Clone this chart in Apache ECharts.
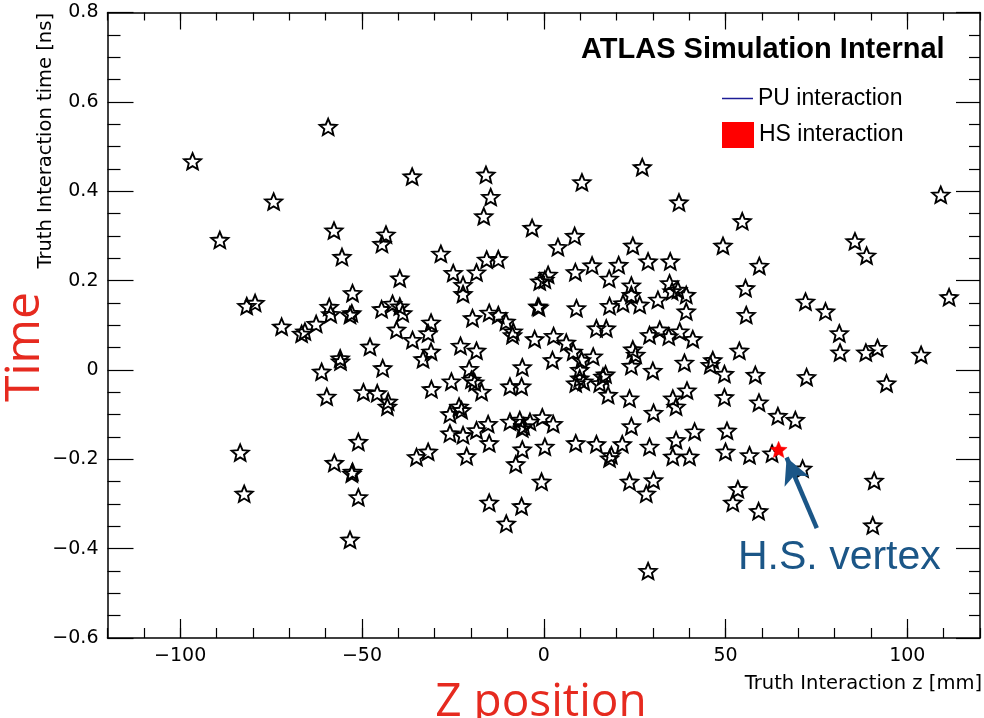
<!DOCTYPE html>
<html>
<head>
<meta charset="utf-8">
<script src="https://cdn.jsdelivr.net/npm/echarts@6/dist/echarts.min.js"></script>
<style>html,body{margin:0;padding:0;background:#fff}#c{width:984px;height:718px}</style>
</head>
<body>
<div id="c"></div>
<script>
// ---- data ----
const zPU = [
-59.3,-96.6,-36.2,-74.3,-89.1,-57.7,-55.5,-43.4,-44.5,-39.6,-28.3,-52.6,
-15.9,-14.6,-16.5,10.5,27.1,37.2,-3.2,8.5,3.9,24.5,-15.7,-12.5,-24.9,-18.5,-22.2,28.7,34.8,8.7,13.3,20.6,18.0,-1.1,1.2,0.3,24.1,34.6,
109.2,54.6,49.3,59.3,55.5,85.6,88.8,
-81.7,-79.4,-72.1,-66.6,-65.7,-62.6,-59.0,-58.6,-53.3,-52.8,-44.6,-41.6,-39.6,-38.8,-40.5,-36.1,-31.8,-31.0,-31.0,-33.2,-47.8,-56.0,-55.9,-61.1,-44.3,-59.7,-49.6,-45.8,-42.8,-43.0,-30.9,-51.0,-83.5,-35.0,-31.8,
-57.6,-52.8,-52.6,-82.4,-51.0,-53.3,
-22.2,36.9,39.2,35.3,39.2,31.4,26.4,24.1,21.8,18.1,9.0,-1.6,-1.3,-19.6,-15.0,-12.5,-10.4,-8.4,-8.6,-2.5,2.7,6.2,8.1,10.4,13.6,2.4,-5.9,-22.9,-18.5,14.5,17.2,24.5,25.3,24.1,29.1,31.9,34.4,37.4,41.0,38.7,30.0,9.9,9.9,8.8,11.0,16.3,17.0,15.4,17.7,23.6,30.2,35.5,36.4,39.4,24.1,36.4,41.5,40.1,35.5,29.1,21.6,18.6,18.1,14.5,8.8,0.3,-5.9,-15.0,-21.2,-6.1,-9.3,-20.5,-19.9,-19.0,-17.1,-25.4,-23.3,-25.8,-22.6,-25.8,-22.2,-18.5,-15.3,-9.3,-6.6,-5.9,-5.5,-3.8,-0.4,2.6,
-7.7,-0.6,-15.0,-6.1,-10.3,23.6,30.2,28.2,28.7,
55.7,72.0,77.5,81.3,81.5,88.6,91.8,111.5,103.8,94.3,72.3,53.8,46.5,45.8,49.7,58.2,49.7,59.2,64.4,69.2,50.4,50.0,56.6,62.8,
71.2,53.4,52.0,59.1,90.9,90.5
];
const tPU = [
0.544,0.467,0.433,0.377,0.291,0.312,0.253,0.303,0.282,0.205,0.260,0.172,
0.437,0.387,0.344,0.420,0.454,0.375,0.318,0.300,0.275,0.278,0.247,0.248,0.217,0.218,0.190,0.243,0.243,0.219,0.234,0.235,0.204,0.198,0.213,0.202,0.189,0.194,
0.392,0.333,0.278,0.233,0.183,0.288,0.256,
0.143,0.150,0.097,0.081,0.086,0.103,0.141,0.125,0.123,0.127,0.136,0.148,0.142,0.127,0.090,0.067,0.082,0.106,0.041,0.024,0.052,0.026,0.019,-0.004,0.004,-0.060,-0.050,-0.052,-0.071,-0.082,-0.043,-0.161,-0.185,-0.195,-0.183,
-0.208,-0.232,-0.228,-0.277,-0.285,-0.380,
0.170,0.179,0.168,0.176,0.131,0.157,0.146,0.168,0.149,0.143,0.138,0.142,0.140,0.116,0.128,0.123,0.108,0.086,0.078,0.069,0.076,0.061,0.041,0.022,0.030,0.022,0.006,0.054,0.043,0.093,0.093,0.046,0.034,0.009,0.078,0.090,0.075,0.086,0.069,0.016,-0.002,0.000,-0.019,-0.030,-0.026,-0.015,-0.010,-0.030,-0.056,-0.064,-0.096,-0.064,-0.082,-0.046,-0.126,-0.157,-0.138,-0.194,-0.194,-0.172,-0.166,-0.191,-0.198,-0.166,-0.164,-0.172,-0.178,-0.164,-0.193,-0.037,-0.037,0.002,-0.022,-0.028,-0.049,-0.026,-0.082,-0.099,-0.090,-0.142,-0.146,-0.135,-0.121,-0.116,-0.112,-0.131,-0.126,-0.116,-0.106,-0.121,
-0.211,-0.250,-0.297,-0.305,-0.344,-0.250,-0.247,-0.277,-0.450,
0.123,0.153,0.131,0.082,0.039,0.039,0.049,0.163,0.034,-0.030,-0.016,0.043,0.022,0.011,-0.009,-0.011,-0.061,-0.073,-0.103,-0.112,-0.136,-0.183,-0.191,-0.187,
-0.221,-0.267,-0.297,-0.316,-0.248,-0.348
];
const zHS = [64.6];
const tHS = [-0.178];
const xMajorTicks = [-100, -50, 0, 50, 100];
const yMajorTicks = [-0.6, -0.4, -0.2, 0, 0.2, 0.4, 0.6, 0.8];
const arrowFrom = [75.1, -0.354];
const arrowTo = [66.8, -0.196];
const seriesNames = ['PU interaction', 'HS interaction'];

// ---- styling ----
function starPath() {
  const pts = [];
  for (let k = 0; k < 10; k++) {
    const a = -Math.PI / 2 + k * Math.PI / 5;
    const r = (k % 2) ? 0.45 : 1;
    pts.push((r * Math.cos(a)).toFixed(4) + ' ' + (r * Math.sin(a)).toFixed(4));
  }
  return 'path://M' + pts.join(' L') + ' Z';
}
const STAR = starPath();
const minus = v => (v < 0 ? '\u2212' : '') + Math.abs(v);
const tickFont = { fontFamily: 'DejaVu Sans', fontSize: 19, color: '#000' };
const lineCol = { color: '#000', width: 1.5 };

const chart = echarts.init(document.getElementById('c'), null, { renderer: 'canvas' });

const baseX = { type: 'value', min: -120, max: 120, gridIndex: 0, splitLine: { show: false } };
const baseY = { type: 'value', min: -0.6, max: 0.8, gridIndex: 0, splitLine: { show: false } };

chart.setOption({
  animation: false,
  backgroundColor: '#fff',
  grid: { left: 107.5, right: 4, top: 12.5, bottom: 80, containLabel: false },
  xAxis: [
    Object.assign({}, baseX, { position: 'bottom', interval: 10,
      axisLine: { show: true, onZero: false, lineStyle: lineCol },
      axisTick: { show: true, inside: true, length: 10, lineStyle: { color: '#000', width: 1.2 } },
      axisLabel: { show: false } }),
    Object.assign({}, baseX, { position: 'bottom',
      axisLine: { show: false, onZero: false },
      axisTick: { show: true, inside: true, length: 19, customValues: xMajorTicks, lineStyle: { color: '#000', width: 1.2 } },
      axisLabel: Object.assign({ show: true, customValues: xMajorTicks, margin: 9, formatter: v => minus(v) }, tickFont) }),
    Object.assign({}, baseX, { position: 'top', interval: 10,
      axisLine: { show: true, onZero: false, lineStyle: lineCol },
      axisTick: { show: true, inside: true, length: 8, lineStyle: { color: '#000', width: 1.2 } },
      axisLabel: { show: false } }),
    Object.assign({}, baseX, { position: 'top',
      axisLine: { show: false, onZero: false },
      axisTick: { show: true, inside: true, length: 17, customValues: xMajorTicks, lineStyle: { color: '#000', width: 1.2 } },
      axisLabel: { show: false } })
  ],
  yAxis: [
    Object.assign({}, baseY, { position: 'left', interval: 0.2,
      axisLine: { show: true, onZero: false, lineStyle: lineCol },
      axisTick: { show: true, inside: true, length: 26, lineStyle: { color: '#000', width: 1.2 } },
      minorTick: { show: true, splitNumber: 4, length: 13, lineStyle: { color: '#000', width: 1.2 } },
      axisLabel: Object.assign({ show: true, margin: 9, formatter: v => {
        if (Math.abs(v) < 1e-9) return '0';
        return (v < 0 ? '\u2212' : '') + Math.abs(v).toFixed(1);
      } }, tickFont) }),
    Object.assign({}, baseY, { position: 'right', interval: 0.2,
      axisLine: { show: true, onZero: false, lineStyle: lineCol },
      axisTick: { show: true, inside: true, length: 24, lineStyle: { color: '#000', width: 1.2 } },
      minorTick: { show: true, splitNumber: 4, length: 11, lineStyle: { color: '#000', width: 1.2 } },
      axisLabel: { show: false } })
  ],
  legend: [
    { data: [{ name: seriesNames[0], icon: 'rect', itemStyle: { color: '#1c1c96', borderWidth: 0, opacity: 1 } }],
      left: 722, top: 87, itemWidth: 31, itemHeight: 1.5, padding: 0, selectedMode: false,
      textStyle: { fontFamily: 'Liberation Sans', fontSize: 23, color: '#000' } },
    { data: [{ name: seriesNames[1], icon: 'rect', itemStyle: { color: '#ff0000', borderWidth: 0, opacity: 1 } }],
      left: 722, top: 122, itemWidth: 32, itemHeight: 26, padding: 0, selectedMode: false,
      textStyle: { fontFamily: 'Liberation Sans', fontSize: 23, color: '#000' } }
  ],
  series: [
    { name: seriesNames[0], type: 'scatter', xAxisIndex: 0, yAxisIndex: 0,
      data: zPU.map((z, i) => [z, tPU[i]]),
      symbol: STAR, symbolSize: 17, symbolKeepAspect: true,
      itemStyle: { color: 'rgba(255,255,255,0)', borderColor: '#000', borderWidth: 1.9, opacity: 1 },
      emphasis: { disabled: true }, z: 2 },
    { name: seriesNames[1], type: 'scatter', xAxisIndex: 0, yAxisIndex: 0,
      data: zHS.map((z, i) => [z, tHS[i]]),
      symbol: STAR, symbolSize: 17, symbolKeepAspect: true,
      itemStyle: { color: '#ff0000', borderColor: '#ff0000', borderWidth: 0.5, opacity: 1 },
      emphasis: { disabled: true }, z: 3,
      markLine: { silent: true, animation: false,
        symbol: ['none', 'arrow'], symbolSize: [20, 26],
        lineStyle: { color: '#1b5687', width: 4.5, type: 'solid', opacity: 1 },
        label: { show: false },
        data: [[{ coord: arrowFrom }, { coord: arrowTo }]] } }
  ],
  graphic: [
    { type: 'text', x: 581, y: 49.5, silent: true,
      style: { text: 'ATLAS Simulation Internal', font: 'bold 29px "Liberation Sans"', fill: '#000', textAlign: 'left', textVerticalAlign: 'middle' } },
    { type: 'text', x: 982, y: 684, silent: true,
      style: { text: 'Truth Interaction z [mm]', font: '19.5px "DejaVu Sans"', fill: '#000', textAlign: 'right', textVerticalAlign: 'middle' } },
    { type: 'text', x: 46, y: 13, rotation: Math.PI / 2, silent: true,
      style: { text: 'Truth Interaction time [ns]', font: '19.5px "DejaVu Sans"', fill: '#000', textAlign: 'right', textVerticalAlign: 'middle' } },
    { type: 'text', x: 25, y: 347, rotation: Math.PI / 2, silent: true,
      style: { text: 'Time', font: '48px "Open Sans"', fill: '#e62a1f', textAlign: 'center', textVerticalAlign: 'middle' } },
    { type: 'text', x: 541, y: 703, silent: true,
      style: { text: 'Z position', font: '46px "Open Sans"', fill: '#e62a1f', textAlign: 'center', textVerticalAlign: 'middle' } },
    { type: 'text', x: 738, y: 558, silent: true,
      style: { text: 'H.S. vertex', font: '41px "Liberation Sans"', fill: '#1b5687', textAlign: 'left', textVerticalAlign: 'middle' } }
  ]
});
</script>
</body>
</html>
